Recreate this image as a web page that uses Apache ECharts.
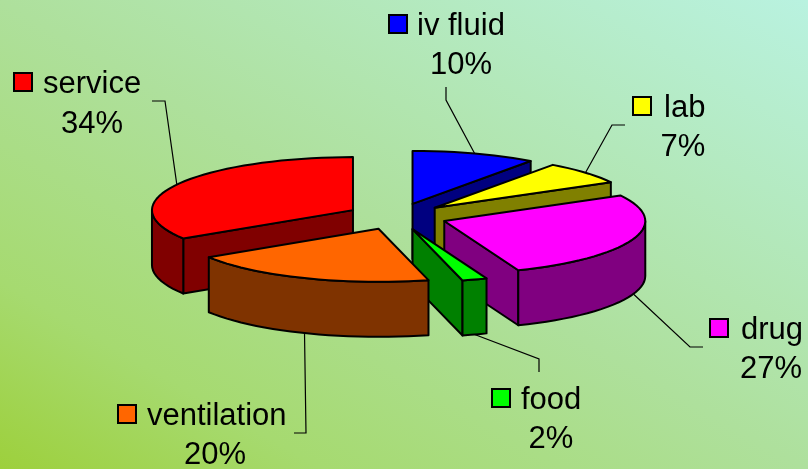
<!DOCTYPE html>
<html>
<head>
<meta charset="utf-8">
<title>Cost breakdown</title>
<script src="https://cdn.jsdelivr.net/npm/echarts@6/dist/echarts.min.js"></script>
<style>
  html, body { margin: 0; padding: 0; }
  #chart { width: 808px; height: 469px; }
</style>
</head>
<body>
<div id="chart"></div>
<script>
const categories = ['iv fluid', 'lab', 'drug', 'food', 'ventilation', 'service'];
const shares = [10, 7, 27, 2, 20, 34];

const topColors = ['#0000ff', '#ffff00', '#ff00ff', '#00ff00', '#ff6600', '#ff0000'];
const wallColors = ['#000080', '#808000', '#800080', '#008000', '#7f3300', '#800000'];

// back to front, so nearer slices cover the ones behind
const drawOrder = [5, 0, 1, 2, 3, 4];

// swatch top left, name start, percent center, leader elbow and leader end
const labelLayout = [
  { swatch: [389, 15], nameX: 417, nameY: 26, pct: [461, 65], elbow: [446, 100], end: [446, 87] },
  { swatch: [633, 97], nameX: 664, nameY: 108, pct: [683, 147], elbow: [612, 125], end: [625, 125] },
  { swatch: [710, 319], nameX: 741, nameY: 330, pct: [771, 369], elbow: [690, 347], end: [703, 347] },
  { swatch: [492, 389], nameX: 521, nameY: 400, pct: [551, 439], elbow: [539, 359], end: [539, 372] },
  { swatch: [118, 405], nameX: 147, nameY: 416, pct: [215, 455], elbow: [306, 433], end: [294, 433] },
  { swatch: [14, 73], nameX: 43, nameY: 84, pct: [92, 124], elbow: [165, 101], end: [152, 101] }
];

const pie = { cx: 397, cy: 216.5, rx: 201, ry: 53, depth: 55, explode: 0.25 };
const font = '31px "Liberation Sans", Arial, sans-serif';

const total = shares.reduce((sum, val) => sum + val, 0);

function sliceGeometry(i) {
  const before = shares.slice(0, i).reduce((sum, val) => sum + val, 0);
  const start = (before / total) * 360;
  const end = ((before + shares[i]) / total) * 360;
  const mid = (start + end) / 2;
  const cx = pie.cx + pie.explode * pie.rx * Math.sin(rad(mid));
  const cy = pie.cy - pie.explode * pie.ry * Math.cos(rad(mid));
  return { start, end, mid, cx, cy };
}

function rad(deg) {
  return (deg * Math.PI) / 180;
}

function rimPoint(g, deg, drop) {
  return [g.cx + pie.rx * Math.sin(rad(deg)), g.cy - pie.ry * Math.cos(rad(deg)) + drop];
}

function arcPoints(g, from, to, drop) {
  const pts = [];
  const steps = Math.max(2, Math.ceil((to - from) / 3));
  for (let k = 0; k <= steps; k++) {
    pts.push(rimPoint(g, from + ((to - from) * k) / steps, drop));
  }
  return pts;
}

function poly(points, fill) {
  return {
    type: 'polygon',
    shape: { points },
    style: { fill, stroke: '#000', lineWidth: 2, lineJoin: 'round' }
  };
}

function cutFace(g, deg, fill) {
  const rim = rimPoint(g, deg, 0);
  return poly(
    [[g.cx, g.cy], rim, [rim[0], rim[1] + pie.depth], [g.cx, g.cy + pie.depth]],
    fill
  );
}

function renderSlice(params, api) {
  const i = api.value(0);
  const g = sliceGeometry(i);
  const wall = wallColors[i];
  const children = [];

  // only faces turned toward the viewer get drawn
  if (Math.sin(rad(g.start)) < -0.001) children.push(cutFace(g, g.start, wall));
  if (Math.sin(rad(g.end)) > 0.001) children.push(cutFace(g, g.end, wall));

  const from = Math.max(g.start, 90);
  const to = Math.min(g.end, 270);
  if (to > from) {
    const upper = arcPoints(g, from, to, 0);
    const lower = arcPoints(g, from, to, pie.depth).reverse();
    children.push(poly(upper.concat(lower), wall));
  }

  children.push(poly([[g.cx, g.cy]].concat(arcPoints(g, g.start, g.end, 0)), topColors[i]));
  return { type: 'group', children };
}

function renderLabel(params, api) {
  const i = api.value(0);
  const g = sliceGeometry(i);
  const l = labelLayout[i];
  // leaders leave the wall on the near half, the top rim on the far half
  const anchor = rimPoint(g, g.mid, Math.cos(rad(g.mid)) < 0 ? pie.depth : 0);
  return {
    type: 'group',
    children: [
      {
        type: 'polyline',
        shape: { points: [anchor, l.elbow, l.end] },
        style: { fill: 'none', stroke: '#000', lineWidth: 1.2 }
      },
      {
        type: 'rect',
        shape: { x: l.swatch[0], y: l.swatch[1], width: 18, height: 18 },
        style: { fill: topColors[i], stroke: '#000', lineWidth: 2 }
      },
      {
        type: 'text',
        style: {
          text: categories[i], x: l.nameX, y: l.nameY, font, fill: '#000',
          align: 'left', verticalAlign: 'middle'
        }
      },
      {
        type: 'text',
        style: {
          text: shares[i] + '%', x: l.pct[0], y: l.pct[1], font, fill: '#000',
          align: 'center', verticalAlign: 'middle'
        }
      }
    ]
  };
}

const chartInstance = echarts.init(document.getElementById('chart'));

chartInstance.setOption({
  animation: false,
  backgroundColor: new echarts.graphic.LinearGradient(200, 585, 608, -116, [
    { offset: 0, color: '#9dd03c' },
    { offset: 0.2, color: '#a6da70' },
    { offset: 0.5, color: '#aee09c' },
    { offset: 1, color: '#b9f2e0' }
  ], true),
  series: [
    {
      type: 'custom',
      coordinateSystem: 'none',
      renderItem: renderSlice,
      silent: true,
      encode: { value: 0 },
      data: drawOrder.map(i => [i])
    },
    {
      type: 'custom',
      coordinateSystem: 'none',
      renderItem: renderLabel,
      silent: true,
      encode: { value: 0 },
      data: categories.map((name, i) => [i])
    }
  ]
});
</script>
</body>
</html>
